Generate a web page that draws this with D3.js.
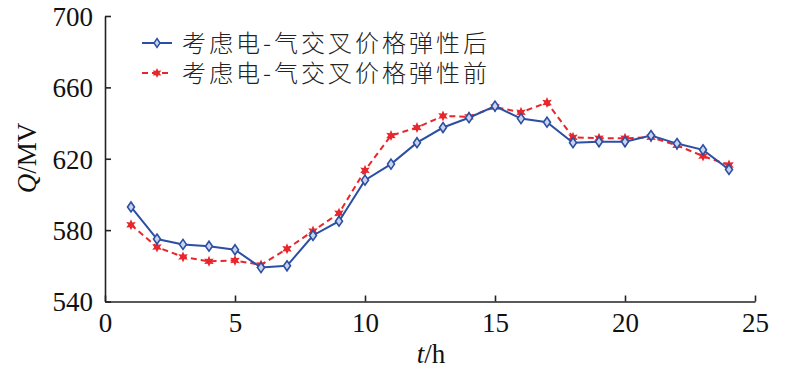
<!DOCTYPE html>
<html><head><meta charset="utf-8">
<script src="https://cdn.jsdelivr.net/npm/d3@7"></script>
<style>html,body{margin:0;padding:0;background:#fff;}</style>
</head><body>
<svg id="c" width="800" height="371"></svg>
<script>
const hours = [1,2,3,4,5,6,7,8,9,10,11,12,13,14,15,16,17,18,19,20,21,22,23,24];
const afterVals = [593,575,572,571,569,559,560,577,585,608,617,629,637.5,643,649.5,642.5,640.5,629,629.5,629.5,633,628.5,625,614];
const beforeVals = [583,570.5,565,562.5,563,560.5,569.5,579.5,589.5,613.5,633,637.5,644,643.5,649,646,651.5,632,631.5,631.5,632,627.5,621.5,616.5];
const seriesNames = ["考虑电-气交叉价格弹性后","考虑电-气交叉价格弹性前"];
const xTicks = [0,5,10,15,20,25];
const yTicks = [540,580,620,660,700];

const svg = d3.select("#c");
const x = d3.scaleLinear().domain([0,25]).range([105,755]);
const y = d3.scaleLinear().domain([540,700]).range([301.5,16]);
const blue = "#2c4fa3", red = "#e8272d";
const numFont = "'Liberation Serif','Times New Roman',serif";

// axes
const xAxis = svg.append("g").attr("transform","translate(0,301.5)")
  .call(d3.axisBottom(x).tickValues(xTicks).tickSizeInner(-6).tickSizeOuter(0).tickPadding(10).tickFormat(d3.format("d")));
const yAxis = svg.append("g").attr("transform","translate(105,0)")
  .call(d3.axisLeft(y).tickValues(yTicks).tickSizeInner(-6).tickSizeOuter(0).tickPadding(12).tickFormat(d3.format("d")));
[xAxis,yAxis].forEach(g=>{
  g.selectAll("path,line").attr("stroke","#222").attr("stroke-width",1.6);
  g.selectAll("text").attr("fill","#111").style("font-family",numFont).style("font-size","27px");
});
xAxis.selectAll("text").attr("dy","0.75em");
yAxis.selectAll("text").attr("dy","0.35em");

// axis titles
svg.append("text").attr("x",431).attr("y",363).attr("text-anchor","middle")
  .style("font-family",numFont).style("font-size","27px").attr("fill","#111")
  .html('<tspan font-style="italic">t</tspan>/h');
svg.append("text").attr("transform","translate(36,158) rotate(-90)").attr("text-anchor","middle")
  .style("font-family",numFont).style("font-size","27px").attr("fill","#111")
  .html('<tspan font-style="italic">Q</tspan>/MV');

// star symbol (6-point)
function starPath(r){
  const pts=[];
  for(let i=0;i<12;i++){
    const a=-Math.PI/2+i*Math.PI/6;
    const rr = i%2===0 ? r : r*0.5;
    pts.push([rr*Math.cos(a), rr*Math.sin(a)]);
  }
  return "M"+pts.map(p=>p.join(",")).join("L")+"Z";
}
function diamondPath(w,h){return `M0,${-h}L${w},0L0,${h}L${-w},0Z`;}

const line = d3.line().x((d,i)=>x(hours[i])).y(d=>y(d));

// before (red dashed)
svg.append("path").datum(beforeVals).attr("d",line).attr("fill","none")
  .attr("stroke",red).attr("stroke-width",2).attr("stroke-dasharray","6,4");
svg.append("g").selectAll("path").data(beforeVals).join("path")
  .attr("transform",(d,i)=>`translate(${x(hours[i])},${y(d)})`)
  .attr("d",starPath(5.5)).attr("fill",red);

// after (blue solid)
svg.append("path").datum(afterVals).attr("d",line).attr("fill","none")
  .attr("stroke",blue).attr("stroke-width",2);
svg.append("g").selectAll("path").data(afterVals).join("path")
  .attr("transform",(d,i)=>`translate(${x(hours[i])},${y(d)})`)
  .attr("d",diamondPath(3.5,5)).attr("fill","#c9d3ec").attr("stroke",blue).attr("stroke-width",1.6);

// legend
const lg = svg.append("g");
const legY = [43,73];
lg.append("line").attr("x1",142).attr("x2",172).attr("y1",legY[0]).attr("y2",legY[0]).attr("stroke",blue).attr("stroke-width",2);
lg.append("path").attr("transform",`translate(157,${legY[0]})`).attr("d",diamondPath(3,4.5)).attr("fill","#c9d3ec").attr("stroke",blue).attr("stroke-width",1.4);
lg.append("line").attr("x1",142).attr("x2",172).attr("y1",legY[1]).attr("y2",legY[1]).attr("stroke",red).attr("stroke-width",2).attr("stroke-dasharray","6,4");
lg.append("path").attr("transform",`translate(157,${legY[1]})`).attr("d",starPath(5)).attr("fill",red);
seriesNames.forEach((n,i)=>{
  lg.append("text").attr("x",182).attr("y",legY[i]).attr("dy","0.36em")
    .style("font-family","'Noto Sans CJK SC','Noto Sans',sans-serif").style("font-size","24px")
    .style("font-weight","300").style("letter-spacing","3px").attr("fill","#222").text(n);
});
</script>
</body></html>
